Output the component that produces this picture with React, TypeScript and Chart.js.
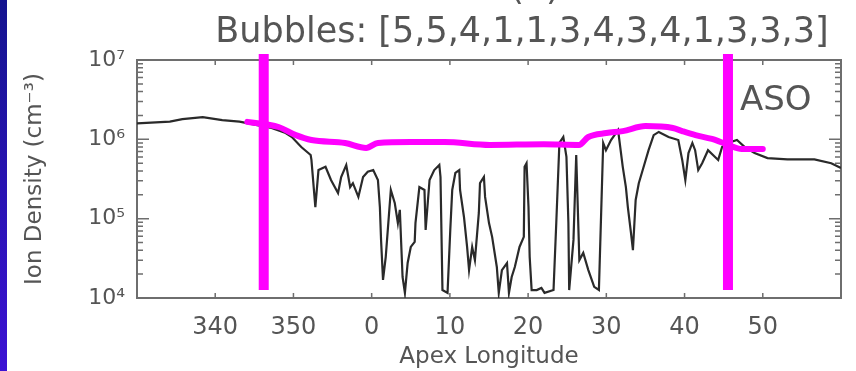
import React, { useEffect, useRef } from "react";
import { Chart, registerables } from "chart.js";

Chart.register(...registerables);

// ---- text ----
const TITLE = "Bubbles: [5,5,4,1,1,3,4,3,4,1,3,3,3]";
const PANEL_TAG = "(b)";
const REGION_LABEL = "ASO";
const X_TITLE = "Apex Longitude";
const Y_TITLE = "Ion Density (cm⁻³)";

// ---- axes ----
// Apex longitude is unwrapped: -30 = 330°, -10 = 350°, 0 = 0°
const X_MIN = -30;
const X_MAX = 60;
const X_STEP = 10;
const Y_MIN = 1e4;
const Y_MAX = 1e7;

// ---- measured ion density (cm^-3) ----
const ionLon = [
  -30.0, -25.8, -24.2, -21.6, -19.1, -16.9, -14.8, -12.8, -11.0, -10.2,
  -9.0, -7.8, -7.7, -7.2, -6.8, -5.9, -5.2, -4.3, -3.9, -3.25,
  -2.75, -2.4, -1.7, -1.1, -0.5, 0.2, 0.8, 1.05, 1.2, 1.45,
  1.8, 2.45, 2.95, 3.35, 3.6, 3.95, 4.25, 4.6, 5.0, 5.5,
  5.6, 6.1, 6.75, 6.9, 7.4, 8.0, 8.65, 8.8, 9.05, 9.7,
  10.05, 10.3, 10.7, 11.2, 11.3, 11.8, 12.2, 12.45, 12.85, 13.2,
  13.7, 13.85, 14.35, 14.5, 15.0, 15.4, 16.0, 16.25, 16.65, 17.3,
  17.55, 17.9, 18.3, 18.9, 19.45, 19.55, 19.8, 20.05, 20.2, 20.45,
  21.1, 21.7, 22.1, 23.25, 23.6, 24.0, 24.5, 24.9, 25.15, 25.25,
  25.8, 26.15, 26.55, 27.05, 27.7, 28.45, 29.05, 29.6, 29.95, 30.6,
  31.5, 32.1, 32.5, 32.75, 33.15, 33.4, 33.75, 34.15, 34.65, 35.4,
  36.05, 36.7, 37.95, 39.2, 39.7, 40.1, 40.5, 41.0, 41.35, 41.75,
  42.25, 43.0, 43.9, 44.3, 44.8, 45.55, 46.7, 47.7, 48.95, 50.6,
  53.15, 56.6, 58.75, 60.0,
];
const ionDensity = [
  1.59e6, 1.67e6, 1.8e6, 1.91e6, 1.75e6, 1.67e6, 1.52e6, 1.39e6, 1.2e6, 1.07e6,
  8.0e5, 6.35e5, 5.5e5, 1.4e5, 4.1e5, 4.5e5, 3.07e5, 2.1e5, 3.35e5, 4.75e5,
  2.5e5, 2.8e5, 1.88e5, 3.35e5, 3.9e5, 4.1e5, 3.07e5, 1.4e5, 5.4e4, 1.69e4,
  3.3e4, 2.3e5, 1.58e5, 8.8e4, 1.29e5, 1.84e4, 1.16e4, 2.76e4, 4.4e4, 5.1e4,
  8.8e4, 2.5e5, 2.3e5, 7.2e4, 3.07e5, 4.1e5, 4.75e5, 3.35e5, 1.26e4, 1.16e4,
  7.2e4, 2.3e5, 3.77e5, 4.1e5, 2.3e5, 1.05e5, 4.4e4, 2.25e4, 4.4e4, 3.0e4,
  1.18e5, 2.8e5, 3.35e5, 1.88e5, 8.8e4, 5.9e4, 2.46e4, 1.16e4, 2.25e4, 2.76e4,
  1.16e4, 1.84e4, 2.46e4, 4.4e4, 5.9e4, 4.5e5, 5.0e5, 1.4e5, 3.3e4, 1.26e4,
  1.26e4, 1.34e4, 1.16e4, 1.26e4, 8.8e4, 9.0e5, 1.07e6, 6.0e5, 8.8e4, 1.26e4,
  5.4e4, 6.35e5, 3.0e4, 3.7e4, 2.25e4, 1.38e4, 1.26e4, 9.0e5, 7.3e5, 9.8e5,
  1.31e6, 4.5e5, 2.5e5, 1.4e5, 6.6e4, 4.0e4, 1.72e5, 2.8e5, 4.1e5, 7.3e5,
  1.13e6, 1.24e6, 1.07e6, 9.8e5, 5.5e5, 3.07e5, 6.7e5, 9.0e5, 7.3e5, 4.1e5,
  5.0e5, 7.3e5, 6.0e5, 5.5e5, 8.0e5, 9.0e5, 9.8e5, 8.0e5, 6.7e5, 5.8e5,
  5.6e5, 5.6e5, 5.0e5, 4.35e5,
];

// ---- hand-drawn background envelope (magenta) ----
const envelopeLon = [
  -15.9, -11.9, -9.7, -7.7, -3.4, -0.7, 0.8, 5.0, 9.3, 15.1, 22.0, 26.5,
  27.7, 30.0, 32.1, 35.0, 38.5, 39.7, 41.4, 43.5, 45.6, 47.3, 50.0,
];
const envelopeDensity = [
  1.66e6, 1.43e6, 1.13e6, 9.8e5, 9.0e5, 7.8e5, 9.0e5, 9.25e5, 9.25e5, 8.5e5, 8.7e5, 8.5e5,
  1.07e6, 1.2e6, 1.27e6, 1.47e6, 1.39e6, 1.27e6, 1.13e6, 1.01e6, 8.5e5, 7.55e5, 7.55e5,
];

// ---- vertical magenta markers ----
const markerLon = [-13.8, 45.55];
const markerSpan = [1.19e7, 1.26e4];

const SUP: Record<string, string> = {
  "0": "⁰", "1": "¹", "2": "²", "3": "³", "4": "⁴",
  "5": "⁵", "6": "⁶", "7": "⁷", "8": "⁸", "9": "⁹",
};

const TEXT = "#555555";
const FRAME = "#6e6e6e";
const FONT = "'DejaVu Sans', sans-serif";

const framePlugin = {
  id: "frameTicks",
  beforeDatasetsDraw(chart: any) {
    const { ctx, chartArea: a, scales } = chart;
    const xs = scales.x;
    const ys = scales.y;
    ctx.save();
    ctx.strokeStyle = FRAME;
    ctx.lineWidth = 2;
    ctx.strokeRect(a.left, a.top, a.right - a.left, a.bottom - a.top);
    ctx.lineWidth = 1.5;
    ctx.beginPath();
    for (const t of xs.ticks) {
      if (t.value <= X_MIN || t.value >= X_MAX) continue;
      const px = xs.getPixelForValue(t.value);
      ctx.moveTo(px, a.bottom);
      ctx.lineTo(px, a.bottom - 5);
      ctx.moveTo(px, a.top);
      ctx.lineTo(px, a.top + 5);
    }
    const d0 = Math.round(Math.log10(Y_MIN));
    const d1 = Math.round(Math.log10(Y_MAX));
    for (let d = d0; d <= d1; d++) {
      for (let m = 1; m <= 9; m++) {
        const v = m * Math.pow(10, d);
        if (v > Y_MAX * 1.0001) break;
        const py = ys.getPixelForValue(v);
        const len = m === 1 ? 12 : 6;
        ctx.moveTo(a.left, py);
        ctx.lineTo(a.left + len, py);
        ctx.moveTo(a.right, py);
        ctx.lineTo(a.right - len, py);
      }
    }
    ctx.stroke();
    ctx.restore();
  },
};

const textPlugin = {
  id: "annotText",
  afterDraw(chart: any) {
    const { ctx } = chart;
    ctx.save();
    ctx.fillStyle = TEXT;
    ctx.textBaseline = "alphabetic";
    ctx.textAlign = "center";
    ctx.font = `35px ${FONT}`;
    ctx.fillText(TITLE, 522, 42);
    ctx.fillText(PANEL_TAG, 535, -1);
    ctx.textAlign = "left";
    ctx.font = `34px ${FONT}`;
    ctx.fillText(REGION_LABEL, 740, 110);
    ctx.restore();
  },
};

export default function App() {
  const canvasRef = useRef<HTMLCanvasElement | null>(null);

  useEffect(() => {
    document.body.style.margin = "0";
    const canvas = canvasRef.current;
    if (!canvas) return;
    Chart.defaults.font.family = FONT;

    const chart = new Chart(canvas, {
      type: "line",
      data: {
        datasets: [
          ...markerLon.map((lon, i) => ({
            label: `Marker ${i + 1}`,
            data: markerSpan.map((v) => ({ x: lon, y: v })),
            borderColor: "#ff00ff",
            borderWidth: 10,
            borderCapStyle: "butt" as const,
            pointRadius: 0,
            clip: false as any,
          })),
          {
            label: "Background envelope",
            data: envelopeLon.map((x, i) => ({ x, y: envelopeDensity[i] })),
            borderColor: "#ff00ff",
            borderWidth: 6,
            borderCapStyle: "round" as const,
            cubicInterpolationMode: "monotone" as const,
            pointRadius: 0,
          },
          {
            label: "Ion density",
            data: ionLon.map((x, i) => ({ x, y: ionDensity[i] })),
            borderColor: "#2a2a2a",
            borderWidth: 2.2,
            pointRadius: 0,
            tension: 0,
          },
        ],
      },
      options: {
        responsive: false,
        animation: false,
        devicePixelRatio: 1,
        layout: { padding: { left: 0, top: 60, right: 9, bottom: 0 } },
        plugins: {
          legend: { display: false },
          tooltip: { enabled: false },
          title: { display: false },
        },
        scales: {
          x: {
            type: "linear",
            min: X_MIN,
            max: X_MAX,
            grid: { display: false, drawTicks: false },
            border: { display: false },
            ticks: {
              stepSize: X_STEP,
              autoSkip: false,
              maxRotation: 0,
              padding: 15,
              color: TEXT,
              font: { size: 24 },
              callback: (v: any) => {
                const n = Number(v);
                if (n <= X_MIN || n >= X_MAX) return "";
                return String(n < 0 ? n + 360 : n);
              },
            },
            title: {
              display: true,
              text: X_TITLE,
              color: TEXT,
              font: { size: 23 },
              padding: { top: 0, bottom: 0 },
            },
            afterFit: (s: any) => {
              s.height = 73;
            },
          },
          y: {
            type: "logarithmic",
            min: Y_MIN,
            max: Y_MAX,
            grid: { display: false, drawTicks: false },
            border: { display: false },
            ticks: {
              autoSkip: false,
              padding: 12,
              color: TEXT,
              font: { size: 22 },
              callback: (v: any) => {
                const e = Math.log10(Number(v));
                if (Math.abs(e - Math.round(e)) > 1e-9) return "";
                return "10" + String(Math.round(e)).split("").map((c) => SUP[c]).join("");
              },
            },
            title: {
              display: true,
              text: Y_TITLE,
              color: TEXT,
              font: { size: 23 },
              padding: { top: 21, bottom: 0 },
            },
            afterFit: (s: any) => {
              s.width = 137;
            },
          },
        },
      },
      plugins: [framePlugin, textPlugin],
    } as any);

    return () => chart.destroy();
  }, []);

  return (
    <div
      style={{
        position: "relative",
        width: 856,
        height: 371,
        background: "#ffffff",
        overflow: "hidden",
      }}
    >
      <div
        style={{
          position: "absolute",
          left: 0,
          top: 0,
          width: 7,
          height: 371,
          background: "linear-gradient(#14148f, #3c12d4)",
        }}
      />
      <canvas
        ref={canvasRef}
        width={856}
        height={371}
        style={{ position: "absolute", left: 0, top: 0, display: "block" }}
      />
    </div>
  );
}
